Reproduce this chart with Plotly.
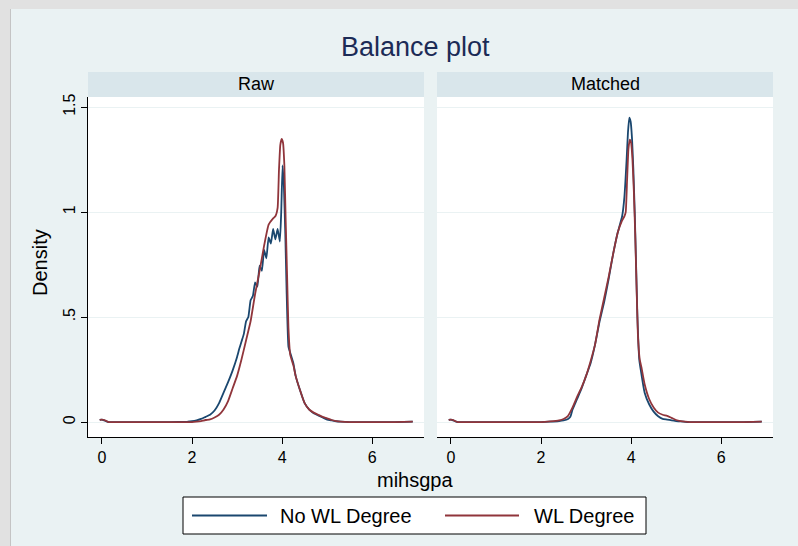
import plotly.graph_objects as go

# ---------------- data ----------------
panels = ["Raw", "Matched"]
series_names = ["No WL Degree", "WL Degree"]

raw_nowl_x = [-0.05, 0.0, 0.05, 0.1, 0.15, 0.3, 1.0, 1.5, 1.9, 2.0, 2.1, 2.2, 2.3, 2.4, 2.5, 2.6,
              2.7, 2.8, 2.9, 3.0, 3.05, 3.1, 3.15, 3.2, 3.25, 3.3, 3.35, 3.4, 3.45, 3.5, 3.55,
              3.6, 3.65, 3.7, 3.75, 3.8, 3.85, 3.9, 3.95, 3.98, 4.01, 4.04, 4.07, 4.1, 4.14,
              4.18, 4.25, 4.3, 4.4, 4.5, 4.6, 4.7, 4.8, 4.9, 5.0, 5.1, 5.2, 5.3, 5.5, 6.0, 6.5, 6.9]
raw_nowl_y = [0.01, 0.012, 0.008, 0.003, 0.0, 0.0, 0.0, 0.0, 0.002, 0.004, 0.008, 0.015, 0.025,
              0.035, 0.055, 0.09, 0.14, 0.19, 0.245, 0.31, 0.35, 0.385, 0.42, 0.48, 0.5, 0.58,
              0.6, 0.665, 0.645, 0.745, 0.72, 0.82, 0.78, 0.88, 0.85, 0.92, 0.87, 0.92, 0.86,
              1.0, 1.222, 1.12, 0.9, 0.62, 0.36, 0.33, 0.28, 0.22, 0.15, 0.09, 0.06, 0.042, 0.032,
              0.022, 0.012, 0.008, 0.004, 0.002, 0.0, 0.0, 0.0, 0.002]

raw_wl_x = [-0.05, 0.0, 0.05, 0.1, 0.15, 0.3, 1.0, 1.5, 2.0, 2.1, 2.2, 2.3, 2.4, 2.5, 2.6, 2.7,
            2.8, 2.9, 3.0, 3.1, 3.2, 3.3, 3.4, 3.5, 3.6, 3.7, 3.8, 3.85, 3.9, 3.93, 3.96, 3.99,
            4.02, 4.05, 4.08, 4.11, 4.14, 4.18, 4.25, 4.3, 4.4, 4.5, 4.6, 4.7, 4.8, 4.9, 5.0,
            5.1, 5.2, 5.3, 5.5, 6.0, 6.5, 6.9]
raw_wl_y = [0.01, 0.012, 0.01, 0.005, 0.0, 0.0, 0.0, 0.0, 0.0, 0.002, 0.005, 0.01, 0.013, 0.022,
            0.035, 0.06, 0.1, 0.16, 0.22, 0.3, 0.39, 0.48, 0.61, 0.72, 0.84, 0.94, 0.97, 0.98,
            1.02, 1.2, 1.32, 1.348, 1.33, 1.22, 0.95, 0.7, 0.45, 0.32, 0.27, 0.22, 0.15, 0.09,
            0.06, 0.045, 0.035, 0.025, 0.018, 0.01, 0.005, 0.002, 0.0, 0.0, 0.0, 0.002]

matched_nowl_x = [-0.05, 0.0, 0.05, 0.1, 0.15, 0.3, 1.0, 2.0, 2.2, 2.4, 2.5, 2.6, 2.65, 2.7, 2.8,
                  2.9, 3.0, 3.1, 3.2, 3.3, 3.4, 3.5, 3.6, 3.7, 3.8, 3.85, 3.9, 3.93, 3.96, 3.99,
                  4.02, 4.05, 4.08, 4.11, 4.14, 4.18, 4.22, 4.3, 4.4, 4.5, 4.6, 4.7, 4.8, 4.9,
                  5.0, 5.1, 5.2, 5.3, 5.5, 6.0, 6.5, 6.9]
matched_nowl_y = [0.01, 0.012, 0.008, 0.003, 0.0, 0.0, 0.0, 0.0, 0.002, 0.005, 0.008, 0.015,
                  0.025, 0.06, 0.11, 0.16, 0.22, 0.28, 0.37, 0.48, 0.57, 0.68, 0.8, 0.9, 0.98,
                  1.07, 1.25, 1.38, 1.45, 1.43, 1.35, 1.2, 1.0, 0.75, 0.5, 0.3, 0.24, 0.14, 0.085,
                  0.05, 0.028, 0.015, 0.012, 0.008, 0.005, 0.003, 0.001, 0.0, 0.0, 0.0, 0.0, 0.002]

matched_wl_x = [-0.05, 0.0, 0.05, 0.1, 0.15, 0.3, 1.0, 2.0, 2.2, 2.4, 2.5, 2.6, 2.7, 2.8, 2.9,
                3.0, 3.1, 3.2, 3.3, 3.4, 3.5, 3.6, 3.7, 3.8, 3.85, 3.88, 3.91, 3.94, 3.97, 4.0,
                4.03, 4.06, 4.09, 4.12, 4.15, 4.19, 4.23, 4.3, 4.4, 4.5, 4.6, 4.7, 4.8, 4.9,
                5.0, 5.1, 5.2, 5.3, 5.5, 6.0, 6.5, 6.9]
matched_wl_y = [0.01, 0.012, 0.01, 0.004, 0.0, 0.0, 0.0, 0.0, 0.003, 0.008, 0.015, 0.03, 0.07,
                0.12, 0.165, 0.22, 0.29, 0.37, 0.49, 0.59, 0.69, 0.8, 0.9, 0.96, 0.98, 1.0, 1.15,
                1.3, 1.345, 1.33, 1.25, 1.1, 0.9, 0.65, 0.42, 0.3, 0.26, 0.18, 0.11, 0.07, 0.045,
                0.035, 0.03, 0.02, 0.01, 0.005, 0.002, 0.0, 0.0, 0.0, 0.0, 0.002]

x_ticks = [0, 2, 4, 6]
y_ticks = [0, 0.5, 1, 1.5]
y_tick_labels = ["0", ".5", "1", "1.5"]

title_text = "Balance plot"
x_title = "mihsgpa"
y_title = "Density"

# ---------------- styling ----------------
NAVY = "#1a476f"
MAROON = "#90353b"
BG = "#eaf2f3"
STRIP = "#d9e6eb"
FONT = "Liberation Sans, Arial, sans-serif"

W, H = 798, 546
L, R, T, B = 88, 773, 97, 437  # plot region in pixels


def px(xp):
    return (xp - L) / (R - L)


def py(yp):
    return (B - yp) / (B - T)


fig = go.Figure()

data = [
    (raw_nowl_x, raw_nowl_y, "x", "y", NAVY, series_names[0]),
    (raw_wl_x, raw_wl_y, "x", "y", MAROON, series_names[1]),
    (matched_nowl_x, matched_nowl_y, "x2", "y2", NAVY, series_names[0]),
    (matched_wl_x, matched_wl_y, "x2", "y2", MAROON, series_names[1]),
]
for xs, ys, xa, ya, col, nm in data:
    fig.add_trace(go.Scatter(x=xs, y=ys, xaxis=xa, yaxis=ya, mode="lines", name=nm,
                             line=dict(color=col, width=1.8, shape="spline", smoothing=0.4),
                             showlegend=False, hoverinfo="x+y+name"))

split1 = px(424)
split2 = px(437)
xr = [-0.31, 7.15]
yr = [-0.071, 1.548]

common_x = dict(range=xr, tickvals=x_ticks, ticks="outside", ticklen=6, tickcolor="black",
                showline=True, linecolor="black", linewidth=1, showgrid=False, zeroline=False,
                tickfont=dict(size=16, color="black", family=FONT))
common_y = dict(range=yr, tickvals=y_ticks, showgrid=True, gridcolor=BG, gridwidth=1,
                zeroline=False)

fig.update_layout(
    width=W, height=H,
    margin=dict(l=L, r=W - R, t=T, b=H - B),
    paper_bgcolor=BG, plot_bgcolor="white",
    font=dict(family=FONT, color="black"),
    xaxis=dict(domain=[0, split1], anchor="y", **common_x),
    xaxis2=dict(domain=[split2, 1], anchor="y2", **common_x),
    yaxis=dict(domain=[0, 1], anchor="x", ticktext=y_tick_labels, ticks="outside", ticklen=6,
               tickcolor="black", tickangle=-90, showline=True, linecolor="black", linewidth=1,
               tickfont=dict(size=16, color="black", family=FONT), **common_y),
    yaxis2=dict(domain=[0, 1], anchor="x2", showticklabels=False, ticks="", showline=False,
                **common_y),
)

shapes = []
# outer gray frame (top and left)
shapes.append(dict(type="rect", xref="paper", yref="paper", x0=px(0), x1=px(W), y0=py(0), y1=py(9),
                   fillcolor="#e1e1e1", line=dict(width=0), layer="above"))
shapes.append(dict(type="rect", xref="paper", yref="paper", x0=px(0), x1=px(10), y0=py(H), y1=py(0),
                   fillcolor="#e1e1e1", line=dict(width=0), layer="above"))
shapes.append(dict(type="line", xref="paper", yref="paper", x0=px(10.5), x1=px(10.5), y0=py(H), y1=py(9),
                   line=dict(color="#c4c4c4", width=1), layer="above"))
# strip headers
for x0, x1 in [(0, split1), (split2, 1)]:
    shapes.append(dict(type="rect", xref="paper", yref="paper", x0=x0, x1=x1, y0=1, y1=py(72),
                       fillcolor=STRIP, line=dict(width=0), layer="above"))
# legend box
shapes.append(dict(type="rect", xref="paper", yref="paper", x0=px(183), x1=px(646), y0=py(534), y1=py(497),
                   fillcolor="white", line=dict(color="black", width=1), layer="above"))
ly = py(515.5)
shapes.append(dict(type="line", xref="paper", yref="paper", x0=px(192), x1=px(267), y0=ly, y1=ly,
                   line=dict(color=NAVY, width=1.8), layer="above"))
shapes.append(dict(type="line", xref="paper", yref="paper", x0=px(445), x1=px(519), y0=ly, y1=ly,
                   line=dict(color=MAROON, width=1.8), layer="above"))
fig.update_layout(shapes=shapes)

ann = []
ann.append(dict(text=title_text, xref="paper", yref="paper", x=px(415.5), y=py(47), showarrow=False,
                xanchor="center", yanchor="middle", font=dict(size=27, color="#1c2b56", family=FONT)))
ann.append(dict(text=panels[0], xref="paper", yref="paper", x=split1 / 2, y=py(84.5), showarrow=False,
                xanchor="center", yanchor="middle", font=dict(size=18, color="black", family=FONT)))
ann.append(dict(text=panels[1], xref="paper", yref="paper", x=(split2 + 1) / 2, y=py(84.5), showarrow=False,
                xanchor="center", yanchor="middle", font=dict(size=18, color="black", family=FONT)))
ann.append(dict(text=x_title, xref="paper", yref="paper", x=px(415), y=py(480), showarrow=False,
                xanchor="center", yanchor="middle", font=dict(size=20, color="black", family=FONT)))
ann.append(dict(text=y_title, xref="paper", yref="paper", x=px(40), y=py(262), showarrow=False,
                textangle=-90, xanchor="center", yanchor="middle",
                font=dict(size=20, color="black", family=FONT)))
ann.append(dict(text=series_names[0], xref="paper", yref="paper", x=px(278), y=ly, showarrow=False,
                xanchor="left", yanchor="middle", font=dict(size=20, color="black", family=FONT)))
ann.append(dict(text=series_names[1], xref="paper", yref="paper", x=px(532), y=ly, showarrow=False,
                xanchor="left", yanchor="middle", font=dict(size=20, color="black", family=FONT)))
fig.update_layout(annotations=ann)

fig.write_html("out.html", config={"displayModeBar": False},
               post_script="document.body.style.margin='0';")
